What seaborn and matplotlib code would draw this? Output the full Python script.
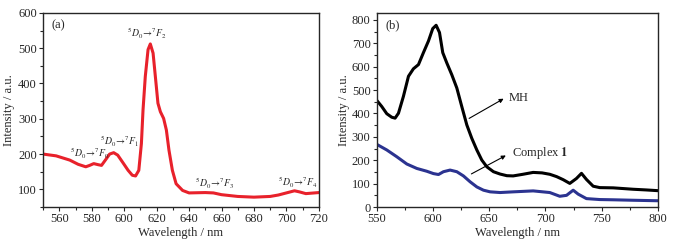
import numpy as np
import pandas as pd
import seaborn as sns
import matplotlib.pyplot as plt
from matplotlib.ticker import MultipleLocator

# panel (a) emission spectrum
wl_a = [550, 558, 566.4, 571.6, 576.3, 578.7, 581.2, 583.9, 586, 589, 591, 593.5, 596,
        599.3, 602.4, 605, 607, 609, 610.6, 611.6, 613, 614.7, 616.1, 617.8, 619.2,
        620.8, 622.3, 624.3, 626, 627.6, 629.7, 632, 636, 640, 650, 655, 660, 670,
        680, 690, 695, 700, 705, 708, 712, 720]
int_a = [200, 195, 183, 171, 164, 168, 173, 170, 168, 187, 200, 204, 197,
         175, 154, 140, 138, 154, 230, 325, 420, 496, 512, 486, 420,
         344, 320, 301, 268, 211, 154, 116, 97, 90, 91, 90, 85, 80,
         78, 80, 84, 90, 96, 93, 88, 91]

# panel (b) spectra
wl_mh = [550, 554.4, 558.9, 563.3, 566.3, 569.3, 573.7, 578.2, 582.6, 587.1, 591.5, 596,
         599.8, 602.8, 605.8, 608.7, 612.3, 616.7, 621.2, 625.6, 630.1, 634.5, 639,
         643.4, 647.9, 653.8, 659.7, 665.7, 671.3, 680, 689.1, 697, 703.9, 710, 715.8,
         721.7, 727.6, 732.1, 736.5, 742.5, 748.4, 760.3, 778.1, 790, 800]
int_mh = [456, 430, 399, 384, 380, 401, 473, 559, 591, 609, 660, 710,
          763, 777, 746, 660, 616, 566, 509, 430, 351, 294, 244,
          201, 172, 151, 141, 134, 133, 140, 148, 146, 140, 130, 117,
          101, 122, 144, 118, 89, 83, 82, 76, 73, 70]
wl_c1 = [550, 558.9, 567.8, 576.7, 585.6, 594.5, 600.4, 604.9, 609.3, 615.2, 621.2,
         627.1, 633, 639, 644.9, 650.8, 659.7, 671.6, 689.1, 703.9, 712.8, 718.8,
         724.7, 729.2, 736.5, 748.4, 760, 778.1, 798.8, 800]
int_c1 = [268, 244, 215, 184, 165, 153, 143, 139, 151, 158, 151,
          133, 108, 86, 72, 65, 62, 65, 69, 62, 46, 50,
          72, 55, 36, 32, 31, 29, 27, 27]

trans_labels = [r'$^5D_0\!\rightarrow\!^7F_0$', r'$^5D_0\!\rightarrow\!^7F_1$',
                r'$^5D_0\!\rightarrow\!^7F_2$', r'$^5D_0\!\rightarrow\!^7F_3$',
                r'$^5D_0\!\rightarrow\!^7F_4$']
trans_pos = [(579, 203), (597, 237), (614, 543), (656, 118), (707, 120)]

sns.set_style("ticks")
plt.rcParams['font.family'] = ['Liberation Serif', 'DejaVu Serif']
plt.rcParams['mathtext.fontset'] = 'stix'
plt.rcParams['font.size'] = 9

fig = plt.figure(figsize=(6.74, 2.43), dpi=100)
ax1 = fig.add_axes([0.064, 0.148, 0.409, 0.799])
ax2 = fig.add_axes([0.559, 0.148, 0.417, 0.799])

df_a = pd.DataFrame({'wl': wl_a, 'I': int_a})
sns.lineplot(data=df_a, x='wl', y='I', ax=ax1, color='#e8212b', lw=2.2)
ax1.lines[-1].set_solid_joinstyle('round')
ax1.set_xlim(550, 720)
ax1.set_ylim(50, 600)
ax1.xaxis.set_major_locator(MultipleLocator(20))
ax1.xaxis.set_minor_locator(MultipleLocator(10))
ax1.yaxis.set_major_locator(MultipleLocator(100))
ax1.yaxis.set_minor_locator(MultipleLocator(50))
ax1.set_xlabel('Wavelength / nm', labelpad=1)
ax1.set_ylabel('Intensity / a.u.', labelpad=2)
ax1.text(555, 564, '(a)', ha='left', va='center', fontsize=9)
for lab, (x, y) in zip(trans_labels, trans_pos):
    ax1.text(x, y, lab, ha='center', va='center', fontsize=7)

df_b = pd.concat([
    pd.DataFrame({'wl': wl_mh, 'I': int_mh, 's': 'MH'}),
    pd.DataFrame({'wl': wl_c1, 'I': int_c1, 's': 'Complex 1'}),
])
sns.lineplot(data=df_b, x='wl', y='I', hue='s', palette={'MH': 'black', 'Complex 1': '#2b3390'},
             ax=ax2, lw=2.2, legend=False)
for ln in ax2.lines:
    ln.set_solid_joinstyle('round')
ax2.set_xlim(550, 800)
ax2.set_ylim(0, 830)
ax2.xaxis.set_major_locator(MultipleLocator(50))
ax2.xaxis.set_minor_locator(MultipleLocator(25))
ax2.yaxis.set_major_locator(MultipleLocator(100))
ax2.yaxis.set_minor_locator(MultipleLocator(50))
ax2.set_xlabel('Wavelength / nm', labelpad=1)
ax2.set_ylabel('Intensity / a.u.', labelpad=1)
ax2.text(558, 777, '(b)', ha='left', va='center', fontsize=9)
ax2.annotate('', xy=(665, 469), xytext=(630, 373),
             arrowprops=dict(arrowstyle='-|>', color='black', lw=0.8, mutation_scale=6))
ax2.text(667, 466, 'MH', ha='left', va='center', fontsize=9)
ax2.annotate('', xy=(667, 226), xytext=(632, 136),
             arrowprops=dict(arrowstyle='-|>', color='black', lw=0.8, mutation_scale=6))
ax2.text(670, 232, r'Complex $\mathbf{1}$', ha='left', va='center', fontsize=9)

for ax in (ax1, ax2):
    for sp in ax.spines.values():
        sp.set_linewidth(1.0)
        sp.set_visible(True)
    ax.tick_params(which='major', direction='out', length=3, width=0.8, pad=1.5, labelsize=9)
    ax.tick_params(which='minor', direction='out', length=2, width=0.8)

fig.savefig('out.png', dpi=100)
